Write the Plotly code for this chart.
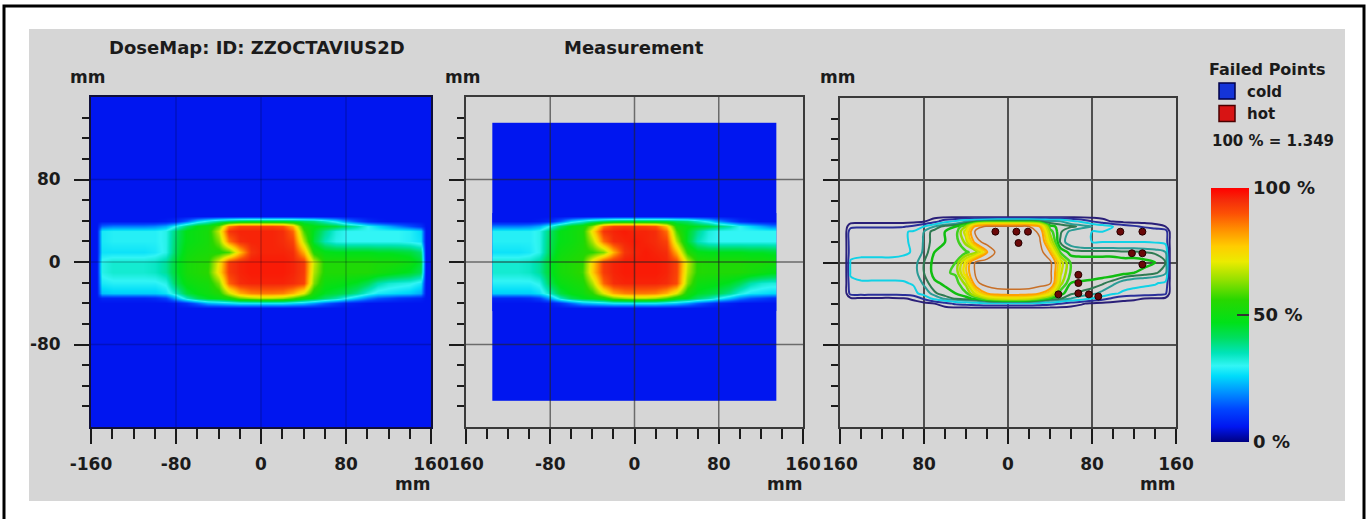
import plotly.graph_objects as go

W, H = 1369, 519
FONT = "DejaVu Sans"
INK = "#1b1b1b"

# ---------------- data ----------------
BACKGROUND_PCT = 6            # dose level outside the field
CALC_PLANE_MM = 320           # side of the calculated dose plane
DETECTOR_PLANE_MM = 270       # side of the OCTAVIUS measuring area
DOSE_100_TEXT = "100 % = 1.349"

# TPS dose plane (percent of 100 % dose), rows from top (+y) to bottom (-y)
x_tps_mm = [-155, -150, -140, -130, -120, -110, -100, -90, -80, -70, -60, -50, -40, -30, -20, -10,
            0, 10, 20, 30, 40, 50, 60, 70, 80, 90, 100, 110, 120, 130, 140, 150, 155]
y_rows_mm = [45, 40, 35, 30, 20, 10, 0, -10, -20, -30, -35, -40, -45]
dose_tps_pct = [
    [6, 6, 6, 6, 6, 6, 6, 6, 6, 6, 6, 6, 6, 6, 6, 6, 6, 6, 6, 6, 6, 6, 6, 6, 6, 6, 6, 6, 6, 6, 6, 6, 6],
    [6, 6, 6, 6, 6, 6, 6, 7, 9, 16, 26, 32, 38, 42, 45, 46, 46, 46, 46, 45, 42, 40, 34, 28, 20, 14, 9, 7, 6, 6, 6, 6, 6],
    [6, 16, 18, 18, 18, 18, 19, 22, 30, 40, 48, 50, 60, 85, 92, 92, 92, 92, 90, 80, 52, 48, 46, 44, 40, 36, 30, 26, 22, 18, 14, 10, 6],
    [6, 28, 29, 29, 29, 29, 29, 31, 40, 48, 50, 52, 68, 94, 96, 96, 96, 96, 95, 88, 58, 46, 38, 32, 30, 30, 30, 30, 30, 30, 29, 26, 6],
    [6, 28, 29, 29, 29, 29, 29, 31, 41, 48, 50, 52, 62, 86, 95, 96, 96, 96, 95, 92, 66, 44, 35, 31, 30, 30, 30, 30, 30, 30, 29, 27, 6],
    [6, 27, 27, 27, 27, 27, 28, 31, 42, 50, 52, 53, 54, 58, 78, 94, 96, 96, 96, 95, 80, 54, 48, 47, 47, 47, 47, 46, 46, 45, 44, 40, 6],
    [6, 31, 33, 33, 33, 33, 34, 37, 45, 52, 54, 55, 72, 93, 96, 97, 97, 97, 97, 96, 93, 68, 54, 54, 54, 54, 54, 53, 53, 52, 50, 45, 6],
    [6, 31, 33, 33, 33, 33, 34, 37, 45, 52, 54, 56, 74, 93, 96, 97, 97, 97, 97, 96, 93, 66, 54, 54, 54, 54, 54, 52, 50, 48, 46, 42, 6],
    [6, 28, 29, 29, 29, 29, 29, 31, 42, 49, 51, 52, 62, 88, 95, 96, 96, 96, 96, 95, 92, 62, 50, 49, 48, 46, 42, 36, 33, 32, 31, 28, 6],
    [6, 24, 25, 25, 25, 25, 25, 27, 34, 44, 48, 50, 54, 68, 80, 85, 86, 86, 85, 80, 70, 52, 46, 44, 42, 38, 32, 28, 27, 26, 25, 22, 6],
    [6, 8, 8, 8, 8, 8, 9, 12, 22, 34, 42, 46, 48, 52, 60, 64, 66, 66, 64, 58, 50, 46, 40, 36, 30, 24, 18, 14, 12, 10, 9, 8, 6],
    [6, 6, 6, 6, 6, 6, 6, 6, 7, 10, 16, 22, 24, 26, 28, 28, 28, 28, 28, 26, 24, 20, 15, 11, 8, 7, 6, 6, 6, 6, 6, 6, 6],
    [6, 6, 6, 6, 6, 6, 6, 6, 6, 6, 6, 6, 6, 6, 6, 6, 6, 6, 6, 6, 6, 6, 6, 6, 6, 6, 6, 6, 6, 6, 6, 6, 6],
]

# Measured plane (detector columns every 10 mm), same rows
x_meas_mm = [-130, -120, -110, -100, -90, -80, -70, -60, -50, -40, -30, -20, -10, 0,
             10, 20, 30, 40, 50, 60, 70, 80, 90, 100, 110, 120, 130]
dose_meas_pct = [
    [6, 6, 6, 6, 6, 6, 6, 6, 6, 6, 6, 6, 6, 6, 6, 6, 6, 6, 6, 6, 6, 6, 6, 6, 6, 6, 6],
    [6, 6, 6, 6, 7, 9, 16, 26, 32, 38, 42, 45, 46, 46, 46, 46, 45, 42, 40, 34, 28, 20, 14, 9, 7, 6, 6],
    [18, 18, 18, 19, 22, 31, 41, 48, 51, 64, 86, 92, 93, 93, 92, 90, 78, 52, 48, 46, 44, 40, 36, 30, 26, 22, 18],
    [29, 29, 29, 29, 31, 41, 48, 50, 53, 74, 94, 96, 97, 96, 96, 95, 87, 58, 46, 38, 32, 30, 30, 30, 30, 30, 30],
    [29, 29, 29, 29, 31, 42, 48, 50, 53, 66, 87, 95, 96, 97, 96, 95, 92, 66, 45, 35, 31, 30, 30, 30, 30, 30, 30],
    [27, 27, 27, 28, 31, 43, 50, 52, 54, 56, 62, 80, 94, 96, 97, 96, 95, 80, 55, 48, 47, 47, 47, 47, 46, 46, 45],
    [33, 33, 33, 34, 37, 46, 52, 54, 56, 76, 93, 96, 97, 97, 97, 97, 96, 92, 68, 55, 54, 54, 54, 54, 53, 53, 52],
    [33, 33, 33, 34, 37, 46, 52, 54, 57, 77, 93, 96, 97, 97, 97, 97, 96, 92, 66, 55, 54, 54, 54, 54, 52, 50, 48],
    [29, 29, 29, 29, 31, 43, 49, 51, 53, 66, 88, 95, 96, 96, 96, 96, 95, 91, 62, 50, 49, 48, 46, 42, 36, 33, 32],
    [25, 25, 25, 25, 27, 35, 44, 48, 50, 56, 70, 81, 85, 86, 86, 85, 80, 70, 52, 46, 44, 42, 38, 32, 28, 27, 26],
    [8, 8, 8, 9, 12, 22, 34, 42, 46, 48, 52, 60, 64, 66, 66, 64, 58, 50, 46, 40, 36, 30, 24, 18, 14, 12, 10],
    [6, 6, 6, 6, 6, 7, 10, 16, 22, 24, 26, 28, 28, 28, 28, 28, 26, 24, 20, 15, 11, 8, 7, 6, 6, 6, 6],
    [6, 6, 6, 6, 6, 6, 6, 6, 6, 6, 6, 6, 6, 6, 6, 6, 6, 6, 6, 6, 6, 6, 6, 6, 6, 6, 6],
]

isodose_levels_pct = [10, 20, 30, 40, 45, 50, 55, 60, 65, 70, 75, 80, 90]

failed_x_mm = [-12, 8, 19, 10, 107, 128, 118, 128, 128, 67, 67, 67, 77, 86, 48]
failed_y_mm = [30, 30, 30, 19, 30, 30, 9, 9, -2, -12, -20, -30, -31, -33, -31]

axis_range_mm = [-160, 160]
x_major_mm = [-160, -80, 0, 80, 160]
minor_mm = [-140, -120, -100, -60, -40, -20, 20, 40, 60, 100, 120, 140]
y_major_mm = [-80, 0, 80]
grid_mm = [-80, 0, 80]
x_labels_p1 = ["-160", "-80", "0", "80", "160"]
x_labels_p2 = ["160", "-80", "0", "80", "160"]
x_labels_p3 = ["160", "80", "0", "80", "160"]
y_labels_p1 = ["-80", "0", "80"]
colorbar_vals = [0, 50, 100]
colorbar_text = ["0 %", "50 %", "100 %"]

for r in dose_tps_pct:
    assert len(r) == len(x_tps_mm)
for r in dose_meas_pct:
    assert len(r) == len(x_meas_mm)

# ---------------- styles ----------------
DOSE_SCALE = [
    [0.00, "rgb(0,0,130)"],
    [0.06, "rgb(0,22,240)"],
    [0.13, "rgb(0,70,255)"],
    [0.20, "rgb(0,150,255)"],
    [0.26, "rgb(0,220,250)"],
    [0.30, "rgb(50,245,245)"],
    [0.35, "rgb(0,228,185)"],
    [0.41, "rgb(0,222,95)"],
    [0.47, "rgb(0,225,25)"],
    [0.56, "rgb(40,215,0)"],
    [0.64, "rgb(150,225,0)"],
    [0.71, "rgb(235,235,0)"],
    [0.77, "rgb(255,205,0)"],
    [0.84, "rgb(255,140,0)"],
    [0.90, "rgb(252,80,5)"],
    [0.95, "rgb(245,45,10)"],
    [1.00, "rgb(255,0,0)"],
]
ISO_COLORS = ["#2a1f78", "#2a2f9a", "#10d2e6", "#2a9c96", "#2f7a52", "#10be10", "#3fd020",
              "#9edc00", "#c8e000", "#ece400", "#f5c800", "#ffa000", "#c87028"]
ISO_WIDTHS = [2, 2, 2, 2, 2, 2.5, 2.5, 2.5, 2.5, 2.5, 2, 2, 1.5]

PANELS = {  # pixel boxes: left, right, top, bottom
    1: (91, 431, 97, 427),
    2: (466, 803, 97, 427),
    3: (840, 1176, 98, 427),
}
FRAME = {1: "#10103a", 2: "#3a3a3a", 3: "#3a3a3a"}
GRID_COLOR = "#505050"


def fx(p):
    return p / W


def fy(p):
    return 1 - p / H


def bold(size):
    return dict(family=FONT, size=size, color=INK, weight="bold")


fig = go.Figure()

# Panel 1: calculated dose
fig.add_trace(go.Heatmap(z=[[BACKGROUND_PCT]], x0=0, dx=CALC_PLANE_MM, y0=0, dy=CALC_PLANE_MM,
                         coloraxis="coloraxis", xaxis="x", yaxis="y", hoverinfo="skip"))
fig.add_trace(go.Heatmap(x=x_tps_mm, y=y_rows_mm, z=dose_tps_pct, zsmooth="best",
                         coloraxis="coloraxis", xaxis="x", yaxis="y"))
# Panel 2: measurement
fig.add_trace(go.Heatmap(z=[[BACKGROUND_PCT]], x0=0, dx=DETECTOR_PLANE_MM, y0=0, dy=DETECTOR_PLANE_MM,
                         coloraxis="coloraxis", xaxis="x2", yaxis="y2", hoverinfo="skip"))
fig.add_trace(go.Heatmap(x=x_meas_mm, y=y_rows_mm, z=dose_meas_pct, zsmooth="best",
                         coloraxis="coloraxis", xaxis="x2", yaxis="y2"))
# Panel 3: isodose lines + failed points
for lvl, col, wid in zip(isodose_levels_pct, ISO_COLORS, ISO_WIDTHS):
    fig.add_trace(go.Contour(x=x_tps_mm, y=y_rows_mm, z=dose_tps_pct, xaxis="x3", yaxis="y3",
                             contours=dict(start=lvl, end=lvl, size=1, coloring="none"),
                             line=dict(color=col, width=wid, smoothing=1.0),
                             showscale=False, showlegend=False, hoverinfo="skip"))
fig.add_trace(go.Scatter(x=failed_x_mm, y=failed_y_mm, mode="markers", xaxis="x3", yaxis="y3",
                         marker=dict(size=7, color="#6a0808", line=dict(color="#250000", width=1)),
                         showlegend=False, name="failed"))
fig.add_trace(go.Scatter(x=[None], y=[None], mode="markers", name="cold", xaxis="x3", yaxis="y3",
                         legendgroup="cold",
                         marker=dict(symbol="square", size=16, color="#1434d8",
                                     line=dict(color="#00004a", width=1.5))))
fig.add_trace(go.Scatter(x=[None], y=[None], mode="markers", name="hot", xaxis="x3", yaxis="y3",
                         legendgroup="hot",
                         marker=dict(symbol="square", size=16, color="#d81414",
                                     line=dict(color="#4a0000", width=1.5))))


def x_axis(p, labels, anchor, grid):
    l, r, t, b = PANELS[p]
    return dict(domain=[fx(l), fx(r)], anchor=anchor, range=axis_range_mm, automargin=False,
                tickmode="array", tickvals=x_major_mm, ticktext=labels,
                ticks="outside", ticklen=15, tickwidth=2, tickcolor=INK,
                minor=dict(tickmode="array", tickvals=minor_mm, ticks="outside", ticklen=10,
                           tickwidth=2, tickcolor=INK, showgrid=False),
                showline=True, linewidth=2, linecolor=FRAME[p], mirror=True,
                showgrid=grid, gridcolor=GRID_COLOR, gridwidth=1.5, zeroline=False,
                tickfont=bold(17), ticklabelstandoff=6, fixedrange=True)


def y_axis(p, labels, anchor, grid):
    l, r, t, b = PANELS[p]
    d = dict(domain=[fy(b), fy(t)], anchor=anchor, range=axis_range_mm, automargin=False,
             tickmode="array", tickvals=y_major_mm,
             ticks="outside", ticklen=15, tickwidth=2, tickcolor=INK,
             minor=dict(tickmode="array", tickvals=minor_mm, ticks="outside", ticklen=7,
                        tickwidth=2, tickcolor=INK, showgrid=False),
             showline=True, linewidth=2, linecolor=FRAME[p], mirror=True,
             showgrid=grid, gridcolor=GRID_COLOR, gridwidth=1.5, zeroline=False,
             tickfont=bold(17), ticklabelstandoff=10, fixedrange=True)
    if labels:
        d["ticktext"] = labels
        d["showticklabels"] = True
    else:
        d["showticklabels"] = False
    return d


shapes = [
    dict(type="rect", xref="paper", yref="paper", x0=fx(29), x1=fx(1345), y0=fy(501), y1=fy(29),
         fillcolor="#d6d6d6", line=dict(width=0), layer="below"),
    dict(type="rect", xref="paper", yref="paper", x0=fx(4), x1=fx(1364), y0=-0.05, y1=fy(6),
         fillcolor="rgba(0,0,0,0)", line=dict(color="black", width=3), layer="below"),
]
for ax, col in (("", "rgba(0,0,30,0.22)"), ("2", "rgba(35,35,35,0.6)")):
    for v in grid_mm:
        shapes.append(dict(type="line", xref="x" + ax, yref="y" + ax + " domain", x0=v, x1=v, y0=0, y1=1,
                           line=dict(color=col, width=1.5), layer="above"))
        shapes.append(dict(type="line", xref="x" + ax + " domain", yref="y" + ax, x0=0, x1=1, y0=v, y1=v,
                           line=dict(color=col, width=1.5), layer="above"))

annotations = [
    dict(text="DoseMap: ID: ZZOCTAVIUS2D", x=fx(257), y=fy(47), font=bold(18)),
    dict(text="Measurement", x=fx(634), y=fy(47), font=bold(18)),
    dict(text=DOSE_100_TEXT, x=fx(1210), y=fy(141), xanchor="left", font=bold(15)),
]
for p in (1, 2, 3):
    l, r, t, b = PANELS[p]
    annotations.append(dict(text="mm", x=fx(l - 3), y=fy(77), font=bold(17)))
    annotations.append(dict(text="mm", x=fx(r + 1), y=fy(484), xanchor="right", font=bold(17)))
for a in annotations:
    a.update(xref="paper", yref="paper", showarrow=False, yanchor="middle")
    a.setdefault("xanchor", "center")

fig.update_layout(
    width=W, height=H, margin=dict(l=0, r=0, t=0, b=0, pad=0, autoexpand=False),
    paper_bgcolor="white", plot_bgcolor="#dcdcdc",
    xaxis=x_axis(1, x_labels_p1, "y", False),
    yaxis=y_axis(1, y_labels_p1, "x", False),
    xaxis2=x_axis(2, x_labels_p2, "y2", False),
    yaxis2=y_axis(2, None, "x2", False),
    xaxis3=x_axis(3, x_labels_p3, "y3", True),
    yaxis3=y_axis(3, None, "x3", True),
    coloraxis=dict(colorscale=DOSE_SCALE, cmin=0, cmax=100,
                   colorbar=dict(x=fx(1211), xanchor="left", xpad=0, y=fy(315), yanchor="middle",
                                 len=254 / H, lenmode="fraction", thickness=38, thicknessmode="pixels",
                                 ypad=0, outlinewidth=0, tickmode="array", tickvals=colorbar_vals,
                                 ticktext=colorbar_text, ticks="inside", ticklen=12, tickwidth=2,
                                 tickcolor="#333333", tickfont=bold(18))),
    legend=dict(x=fx(1207), y=fy(54), xanchor="left", yanchor="top", bgcolor="rgba(0,0,0,0)",
                title=dict(text="Failed Points", font=bold(16)), font=bold(15),
                tracegroupgap=11, traceorder="normal"),
    shapes=shapes, annotations=annotations,
)

fig.write_html("out.html", config={"displayModeBar": False},
               post_script="document.body.style.margin='0';")
